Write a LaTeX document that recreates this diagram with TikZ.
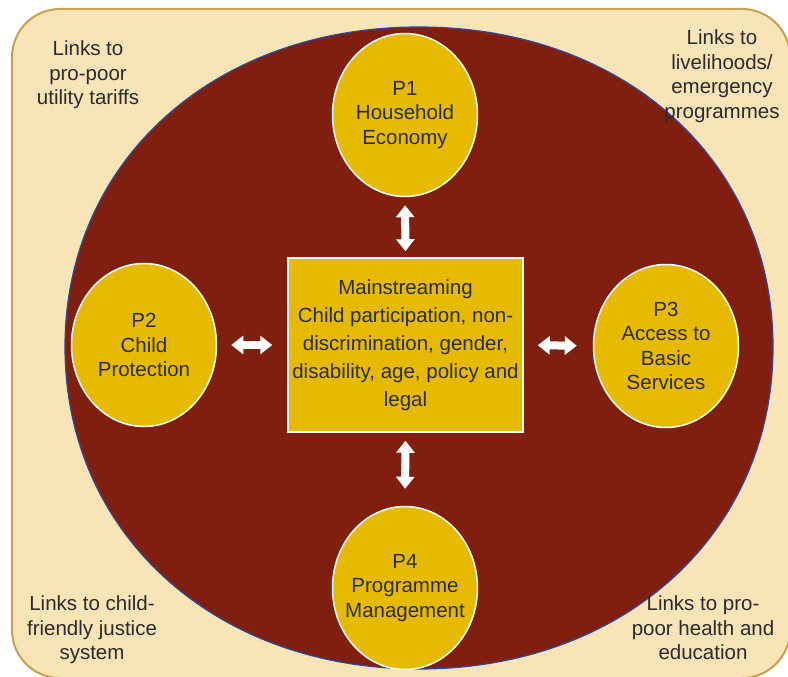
\documentclass[tikz,border=0pt]{standalone}
\usepackage{fontspec}
\setmainfont{Liberation Sans}
\usetikzlibrary{arrows.meta,shapes.geometric}
\definecolor{cream}{HTML}{F8E4B6}
\definecolor{gold}{HTML}{C9A14A}
\definecolor{maroon}{HTML}{801F10}
\definecolor{mustard}{HTML}{E6BA00}
\definecolor{rim}{HTML}{2C4A9A}
\definecolor{ink}{HTML}{2B2B2B}
\begin{document}
\begin{tikzpicture}[x=1pt,y=-1pt,
  txt/.style={text=ink, font=\fontsize{20.5}{24.5}\selectfont, align=center, inner sep=0pt},
  pillar/.style={txt, ellipse, draw=white, line width=1.5pt, fill=mustard,
    inner sep=-16pt, minimum width=145pt, minimum height=163pt},
  core/.style={txt, rectangle, draw=white, line width=1.5pt, fill=mustard,
    minimum width=235pt, minimum height=174pt,
    font=\fontsize{20.5}{28}\selectfont},
  link/.style={draw=white, line width=8pt,
    {Triangle[width=18pt,length=12pt]}-{Triangle[width=18pt,length=12pt]}}
]
\useasboundingbox (0,0) rectangle (788,677);

% frame
\draw[gold, fill=cream, line width=2pt, rounded corners=48pt] (12,9) rectangle (790,678);

% field: a slightly squared oval
\draw[rim, fill=maroon, line width=1.2pt]
  (773,347) .. controls (773,160.8) and (624.3,27) .. (419,27)
            .. controls (213.7,27) and (65,160.8) .. (65,347)
            .. controls (65,533.2) and (213.7,669) .. (419,669)
            .. controls (624.3,669) and (773,533.2) .. (773,347) -- cycle;

% pillars
\node[pillar] (p1) at (405,115) {P1\\Household\\Economy};
\node[pillar] (p2) at (144,345) {P2\\Child\\Protection};
\node[pillar] (p3) at (666,346) {P3\\Access to\\Basic\\Services};
\node[pillar] (p4) at (405,588) {P4\\Programme\\Management};

% central box
\node[core] (box) at (405.5,345) {Mainstreaming\\Child participation, non-\\discrimination, gender,\\disability, age, policy and\\legal};

% two-way links
\draw[link, shorten <=6pt, shorten >=8pt] (box.north) -- (p1.south);
\draw[link, shorten <=8pt, shorten >=17pt] (box.south) -- (p4.north);
\draw[link, shorten <=15pt, shorten >=14pt] (box.west) -- (p2.east);
\draw[link, shorten <=14pt, shorten >=16pt] (box.east) -- (p3.west);

% outer links
\node[txt] (tl) at (88,75) {Links to\\pro-poor\\utility tariffs};
\node[txt] (tr) at (722,76) {Links to\\livelihoods/\\emergency\\programmes};
\node[txt] (bl) at (92,630) {Links to child-\\friendly justice\\system};
\node[txt] (br) at (703,628) {Links to pro-\\poor health and\\education};
\end{tikzpicture}
\end{document}
